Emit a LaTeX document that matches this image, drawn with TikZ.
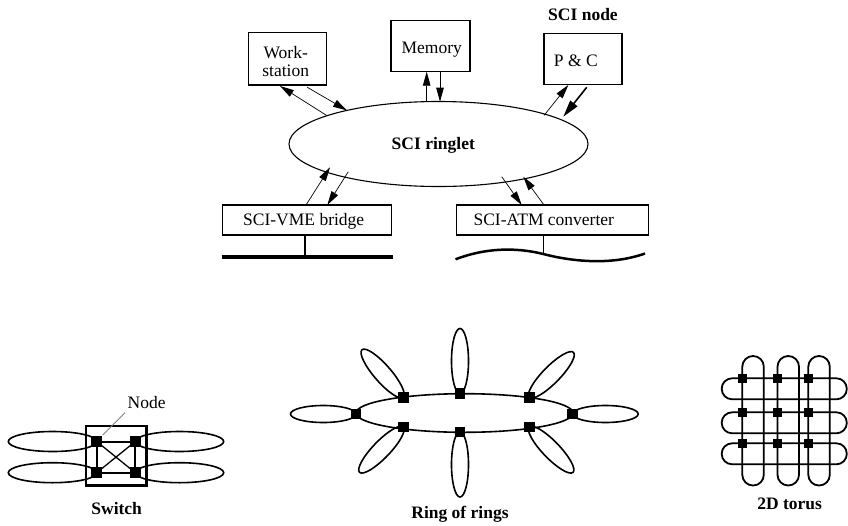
\documentclass[tikz,border=0pt]{standalone}
\usepackage{fontspec}
\setmainfont{Liberation Serif}
\usetikzlibrary{arrows.meta,shapes.geometric}
\begin{document}
\begin{tikzpicture}[x=1pt,y=-1pt,
  font=\fontsize{17.5}{21}\selectfont,
  box/.style={draw, line width=1.1pt, inner sep=0pt},
  txt/.style={anchor=base, inner sep=0pt},
  btxt/.style={anchor=base, inner sep=0pt, font=\fontsize{17.5}{21}\selectfont\bfseries},
  arr/.style={line width=0.7pt, -{Triangle[length=14pt,width=7.5pt]}},
  thickarr/.style={line width=1.6pt, -{Triangle[length=17pt,width=9pt]}},
  sq/.style={fill=black, minimum size=10.5pt, inner sep=0pt, outer sep=0pt},
  tsq/.style={fill=black, minimum size=9.5pt, inner sep=0pt, outer sep=0pt},
  ringline/.style={line width=1.6pt},
  torline/.style={line width=1.8pt},
]
\useasboundingbox (0,0) rectangle (848,525);

% ---------------- top: SCI ringlet ----------------
\node[box, minimum width=77.7pt, minimum height=52.3pt] (ws) at (287.2,58.8) {};
\node[txt] (wst1) at (285.7,58.3) {Work-};
\node[txt] (wst2) at (285.7,76) {station};

\node[box, minimum width=79pt, minimum height=51pt] (mem) at (430.5,46.2) {};
\node[txt] (memt) at (431.7,53.3) {Memory};

\node[box, minimum width=78pt, minimum height=51pt] (pc) at (583,58.8) {};
\node[txt] (pct) at (575.8,66) {P \& C};
\node[btxt] (scinode) at (583,20.7) {SCI node};

\node[draw, ellipse, line width=1.1pt, minimum width=299pt, minimum height=85pt, inner sep=0pt] (ring) at (438.5,144) {};
\node[btxt] (ringt) at (433.3,149) {SCI ringlet};

\node[box, minimum width=169pt, minimum height=30pt] (vme) at (307.2,220) {};
\node[txt] (vmet) at (303.7,225) {SCI-VME bridge};

\node[box, minimum width=192.3pt, minimum height=30pt] (atm) at (552.2,220) {};
\node[txt] (atmt) at (543.8,225) {SCI-ATM converter};

% arrow end points
\coordinate (wa1) at (326.7,115.5);
\coordinate (wb1) at (280,86);
\coordinate (wa2) at (307.3,87.3);
\coordinate (wb2) at (347,110.4);
\coordinate (ma1) at (426.7,101.9);
\coordinate (mb1) at (426.7,71.7);
\coordinate (ma2) at (440,71.7);
\coordinate (mb2) at (440,101.7);
\coordinate (pa1) at (544,115.5);
\coordinate (pb1) at (568.3,85);
\coordinate (pa2) at (586.7,87.3);
\coordinate (pb2) at (563.3,116.7);
\coordinate (va1) at (306,205);
\coordinate (vb1) at (330,167.3);
\coordinate (va2) at (348.3,171.7);
\coordinate (vb2) at (327.3,205);
\coordinate (aa1) at (501.7,176.7);
\coordinate (ab1) at (521.7,205);
\coordinate (aa2) at (544,205);
\coordinate (ab2) at (523.3,176.7);

\draw[arr] (wa1) -- (wb1);
\draw[arr] (wa2) -- (wb2);
\draw[arr] (ma1) -- (mb1);
\draw[arr] (ma2) -- (mb2);
\draw[arr] (pa1) -- (pb1);
\draw[thickarr] (pa2) -- (pb2);
\draw[arr] (va1) -- (vb1);
\draw[arr] (va2) -- (vb2);
\draw[arr] (aa1) -- (ab1);
\draw[arr] (aa2) -- (ab2);

% buses
\coordinate (vmeL) at (221.7,256.7);
\coordinate (vmeR) at (393,256.7);
\coordinate (vmeS) at (305,256.7);
\draw[line width=4pt] (vmeL) -- (vmeR);
\draw[line width=1.4pt] (vme.south -| vmeS) -- (vmeS);

\coordinate (atmL) at (455.5,259.3);
\coordinate (atmS) at (543.3,254);
\coordinate (atmR) at (645,253.5);
\draw[line width=2.5pt] (atmL) .. controls (485,248) and (515,247) .. (atmS)
  .. controls (570,261) and (610,266) .. (atmR);
\draw[line width=1.4pt] (atm.south -| atmS) -- (atmS);

% ---------------- Switch ----------------
\coordinate (s1) at (96.7,441.5);
\coordinate (s2) at (135.3,441.5);
\coordinate (s3) at (96.7,472.7);
\coordinate (s4) at (135.3,472.7);
\draw[ringline] (52.5,441.5) ellipse [x radius=44.2, y radius=10];
\draw[ringline] (52.5,472.7) ellipse [x radius=44.2, y radius=10];
\draw[ringline] (179.5,441.5) ellipse [x radius=44.2, y radius=10];
\draw[ringline] (179.5,472.7) ellipse [x radius=44.2, y radius=10];
\node[draw, line width=2.4pt, minimum width=60.7pt, minimum height=59.7pt, inner sep=0pt] (swbox) at (116.3,455.8) {};
\node[sq] (sn1) at (s1) {};
\node[sq] (sn2) at (s2) {};
\node[sq] (sn3) at (s3) {};
\node[sq] (sn4) at (s4) {};
\draw[line width=2pt] (sn1) -- (sn2);
\draw[line width=2pt] (sn3) -- (sn4);
\draw[line width=2pt] (sn1) -- (sn3);
\draw[line width=2pt] (sn2) -- (sn4);
\draw[line width=1.3pt] (sn1) -- (sn4);
\draw[line width=1.3pt] (sn2) -- (sn3);
\node[txt] (nodelbl) at (146.7,408.3) {Node};
\coordinate (ldr) at (102.7,435);
\draw[gray, line width=0.9pt] (125,412.7) -- (ldr);
\node[btxt] (swlbl) at (116.7,514) {Switch};

% ---------------- Ring of rings ----------------
\coordinate (r1) at (356,414);
\coordinate (r2) at (403.3,397.3);
\coordinate (r3) at (460,393.5);
\coordinate (r4) at (529.3,397.3);
\coordinate (r5) at (572.7,414);
\coordinate (r6) at (529.3,427);
\coordinate (r7) at (460,432);
\coordinate (r8) at (403.3,427);
\node[draw, ellipse, ringline, minimum width=217pt, minimum height=38.6pt, inner sep=0pt] (ror) at (464.5,413) {};
\foreach \p/\a/\l in {r1/180/65.5, r2/131/63, r3/90/65, r4/45.5/63, r5/0/65.5, r6/314/63, r7/270/65, r8/226/63} {
  \draw[ringline, shift={(\p)}, rotate=\a] (\l/2,0) ellipse [x radius=\l/2, y radius=8.5];
}
\foreach \p in {r1,r2,r3,r4,r5,r6,r7,r8} {
  \node[sq] (n\p) at (\p) {};
}
\node[btxt] (rorlbl) at (460,518.3) {Ring of rings};

% ---------------- 2D torus ----------------
\foreach \x in {742.3,777.5,808.3} {
  \draw[torline, rounded corners=10.7pt] (\x,356) rectangle (\x+21.5,485.5);
}
\foreach \y in {378.3,412.3,443.3} {
  \draw[torline, rounded corners=10.4pt] (721.7,\y) rectangle (846.8,\y+21);
}
\foreach \x [count=\i] in {742.3,777.5,808.3} {
  \foreach \y [count=\j] in {378.3,412.3,443.3} {
    \node[tsq] (t\i\j) at (\x,\y) {};
  }
}
\node[btxt] (torlbl) at (789.7,509.3) {2D torus};
\end{tikzpicture}
\end{document}
